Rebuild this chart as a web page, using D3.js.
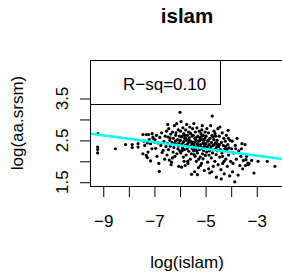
<!DOCTYPE html>
<html>
<head>
<meta charset="utf-8">
<script src="https://cdn.jsdelivr.net/npm/d3@7"></script>
<style>
  body { margin: 0; background: #fff; }
  text { font-family: "Liberation Sans", Arial, sans-serif; }
</style>
</head>
<body>
<div id="chart"></div>
<script>
var title = "islam",
    xLabel = "log(islam)",
    yLabel = "log(aa.srsm)",
    legendText = "R\u2212sq=0.10";

var xTicks = [-9, -8, -7, -6, -5, -4, -3, -2],
    xTickLabels = [-9, -7, -5, -3],
    yTicks = [1.5, 2, 2.5, 3, 3.5],
    yTickLabels = [1.5, 2.5, 3.5];

// fitted line: y = a + b * x
var fit = [1.89, -0.081];

// points, [log(islam), log(aa.srsm)]
var left = [[-9.21,2.66],[-9.22,2.34],[-9.22,2.28],[-9.22,2.2],[-8.53,2.3],[-8.13,2.4],
  [-7.87,2.4],[-7.87,2.33],[-7.64,2.42],[-7.64,2.34],[-7.45,2.64],[-7.32,2.64],[-7.23,2.64],
  [-7.09,2.66],[-7.06,2.58],[-7.41,2.48],[-7.28,2.44],[-7.15,2.42],[-6.99,2.46],[-7.45,2.18],
  [-7.32,2.14],[-7.25,2.22],[-7.28,2.09],[-7.15,2.01],[-7.38,2.38],[-7.2,2.52],[-7.1,2.3],[-7.05,2.55]];

var mid1 = [[-6.98,2.52],[-6.95,2.31],[-6.92,2.62],[-6.9,2.12],[-6.86,2.44],[-6.83,1.95],[-6.81,1.76],
  [-6.79,2.57],[-6.75,2.38],[-6.72,2.68],[-6.7,2.21],[-6.66,2.26],[-6.63,2.47],[-6.6,2.05],[-6.58,2.6],
  [-6.55,2.35],[-6.53,2.72],[-6.51,2.15],
  [-6.49,2.42],[-6.47,2.58],[-6.45,2.28],[-6.44,2.78],[-6.42,2.03],[-6.4,2.5],[-6.38,2.36],[-6.36,2.65],
  [-6.35,1.92],[-6.33,1.98],[-6.31,2.45],[-6.29,2.7],[-6.27,2.22],[-6.26,2.55],[-6.24,2.33],[-6.22,2.85],
  [-6.2,2.12],[-6.18,2.48],[-6.17,2.62],[-6.15,2.4],[-6.13,2.9],[-6.12,2.18],[-6.1,2.52],[-6.08,2.3],
  [-6.07,2.75],[-6.05,1.88],[-6.04,2.44],[-6.02,2.6],[-6.01,2.25],[-6.48,2.88],[-6.3,2.08],[-6.16,2.68],
  [-6.06,2.37],[-6.39,2.56],[-6.21,2.42]];

var mid2 = [[-5.99,2.5],[-5.98,2.72],[-5.97,2.2],[-5.96,2.95],[-5.94,1.86],[-5.93,2.4],[-5.92,2.6],
  [-5.9,2.32],[-5.89,2.8],[-5.87,2.1],[-5.86,2.47],[-5.85,2.66],[-5.83,2.28],[-5.82,2.55],[-5.8,1.9],
  [-5.79,2.38],[-5.78,2.75],[-5.76,2.15],[-5.75,2.5],[-5.74,2.88],[-5.72,2.3],[-5.71,2.62],[-5.7,2.0],
  [-5.68,2.44],[-5.67,2.7],[-5.66,2.24],[-5.64,2.56],[-5.63,2.36],[-5.62,2.82],[-5.6,2.05],[-5.59,2.48],
  [-5.58,2.66],[-5.56,2.18],[-5.55,1.69],[-5.54,2.42],[-5.53,2.6],[-5.52,2.3],[-5.51,2.78],[-6.0,3.17],
  [-5.95,2.58],[-5.88,2.45],[-5.81,2.62],[-5.73,2.4],[-5.65,2.5],[-5.57,2.35],[-5.69,1.95],[-5.84,2.0],
  [-5.77,2.55],[-5.61,2.68],[-5.91,2.26],
  [-5.49,2.46],[-5.48,2.62],[-5.47,2.25],[-5.46,2.9],[-5.45,2.38],[-5.43,1.75],[-5.42,2.55],[-5.41,2.12],
  [-5.4,2.7],[-5.38,2.33],[-5.37,2.5],[-5.36,2.0],[-5.34,2.8],[-5.33,2.42],[-5.32,2.2],[-5.3,2.6],
  [-5.29,2.35],[-5.28,1.85],[-5.26,2.48],[-5.25,2.72],[-5.24,2.28],[-5.22,2.56],[-5.21,2.1],[-5.2,2.4],
  [-5.18,2.66],[-5.17,2.3],[-5.16,1.95],[-5.14,2.52],[-5.13,2.85],[-5.12,2.18],[-5.1,2.44],[-5.09,2.62],
  [-5.08,2.26],[-5.06,2.5],[-5.05,1.78],[-5.04,2.36],[-5.02,2.7],[-5.01,2.14],[-5.44,2.45],[-5.39,2.3],
  [-5.35,2.58],[-5.31,2.4],[-5.27,2.05],[-5.23,2.5],[-5.19,2.35],[-5.15,2.6],[-5.11,2.32],[-5.07,2.42],
  [-5.03,2.55],[-5.45,2.16],[-5.32,1.68],[-5.2,1.9],[-5.1,2.06],[-5.35,2.25],[-5.15,2.75]];

var mid3 = [[-4.99,2.42],[-4.98,2.6],[-4.96,2.22],[-4.95,2.78],[-4.93,2.35],[-4.92,1.98],[-4.9,2.5],
  [-4.89,2.68],[-4.87,2.15],[-4.86,2.4],[-4.84,1.72],[-4.83,2.55],[-4.81,2.3],[-4.8,2.85],[-4.78,2.08],
  [-4.77,2.45],[-4.75,2.62],[-4.74,3.08],[-4.73,2.2],[-4.71,2.38],[-4.7,1.88],[-4.68,2.52],[-4.67,2.72],
  [-4.65,2.28],[-4.64,2.0],[-4.62,2.44],[-4.61,2.6],[-4.59,2.16],[-4.58,1.62],[-4.56,2.35],[-4.55,2.5],
  [-4.53,2.25],[-4.52,2.78],[-4.51,1.92],[-4.97,2.32],[-4.91,2.48],[-4.85,2.25],[-4.79,2.35],[-4.72,2.58],
  [-4.66,2.4],[-4.6,2.3],[-4.54,2.42],[-4.88,1.82],[-4.76,1.75],[-4.63,2.66],
  [-4.49,2.35],[-4.47,2.6],[-4.45,2.1],[-4.44,2.82],[-4.42,2.28],[-4.4,1.8],[-4.38,2.45],[-4.36,2.2],
  [-4.35,2.68],[-4.33,1.95],[-4.31,2.38],[-4.29,2.55],[-4.27,1.7],[-4.25,2.3],[-4.23,2.48],[-4.21,2.05],
  [-4.19,2.62],[-4.17,2.25],[-4.15,1.88],[-4.13,2.4],[-4.12,2.74],[-4.1,2.15],[-4.08,2.32],[-4.06,1.65],
  [-4.04,2.5],[-4.02,2.0],[-4.46,2.4],[-4.34,2.12],[-4.22,2.36],[-4.11,2.55],[-4.39,1.58],[-4.28,2.0],
  [-4.16,2.3]];

var right = [[-3.98,2.3],[-3.96,2.48],[-3.93,1.95],[-3.9,2.2],[-3.86,1.51],[-3.84,2.38],[-3.8,2.05],
  [-3.77,2.55],[-3.73,1.67],[-3.7,2.25],[-3.66,1.9],[-3.62,2.12],[-3.58,2.42],[-3.55,1.82],[-3.52,2.02],
  [-3.95,1.75],[-3.82,2.3],[-3.6,2.3],[-3.46,2.4],[-3.42,2.04],[-3.4,2.12],[-3.35,1.96],[-3.33,1.92],
  [-3.3,1.95],[-3.44,1.9],[-3.11,1.72],[-3.2,2.02],[-2.95,2.0],[-2.59,2.0],[-2.29,1.88]];

var points = left.concat(mid1, mid2, mid3, right);

var width = 282, height = 274;
var plot = {left: 91, top: 60, right: 300, bottom: 186};

var svg = d3.select("#chart").append("svg")
    .attr("width", width)
    .attr("height", height);

var x = d3.scaleLinear().domain([-9.48, -1.31]).range([plot.left, plot.right]);
var y = d3.scaleLinear().domain([1.41, 4.42]).range([plot.bottom, plot.top]);

svg.append("clipPath").attr("id", "clip")
  .append("rect")
    .attr("x", plot.left).attr("y", plot.top)
    .attr("width", plot.right - plot.left).attr("height", plot.bottom - plot.top);

var inner = svg.append("g").attr("clip-path", "url(#clip)");

inner.selectAll("circle")
    .data(points)
  .enter().append("circle")
    .attr("cx", function(d) { return x(d[0]); })
    .attr("cy", function(d) { return y(d[1]); })
    .attr("r", 1.6)
    .attr("fill", "#000");

var xs = x.domain();
inner.append("line")
    .attr("x1", x(xs[0])).attr("y1", y(fit[0] + fit[1] * xs[0]))
    .attr("x2", x(xs[1])).attr("y2", y(fit[0] + fit[1] * xs[1]))
    .attr("stroke", "#00ffff")
    .attr("stroke-width", 2.5);

// axes
var xAxis = svg.append("g")
    .attr("transform", "translate(0," + plot.bottom + ")")
    .call(d3.axisBottom(x).tickValues(xTicks).tickSize(11).tickSizeOuter(0).tickPadding(18)
      .tickFormat(function(d) { return xTickLabels.indexOf(d) >= 0 ? d3.format("d")(d) : ""; }));
xAxis.select(".domain").remove();
xAxis.selectAll("text").attr("font-size", 17).attr("fill", "#000")
    .attr("font-family", "Liberation Sans, Arial, sans-serif");
xAxis.selectAll("line").attr("stroke", "#000");

var yAxis = svg.append("g")
    .attr("transform", "translate(" + plot.left + ",0)")
    .call(d3.axisLeft(y).tickValues(yTicks).tickSize(11).tickSizeOuter(0).tickFormat(""));
yAxis.select(".domain").remove();
yAxis.selectAll("line").attr("stroke", "#000");

svg.selectAll(".ylab")
    .data(yTickLabels)
  .enter().append("text")
    .attr("class", "ylab")
    .attr("transform", function(d) { return "translate(68," + y(d) + ") rotate(-90)"; })
    .attr("text-anchor", "middle")
    .attr("font-size", 17)
    .text(function(d) { return d3.format(".1f")(d); });

// box
svg.append("rect")
    .attr("x", plot.left - 0.5).attr("y", plot.top + 0.5)
    .attr("width", plot.right - plot.left).attr("height", plot.bottom - plot.top)
    .attr("fill", "none").attr("stroke", "#000");

// legend
svg.append("rect")
    .attr("x", plot.left - 0.5).attr("y", plot.top + 0.5)
    .attr("width", 130).attr("height", 44)
    .attr("fill", "#fff").attr("stroke", "#000");
svg.append("text")
    .attr("x", 123).attr("y", 90)
    .attr("font-size", 17)
    .text(legendText);

// titles
svg.append("text")
    .attr("x", 187).attr("y", 23)
    .attr("text-anchor", "middle")
    .attr("font-size", 20.5)
    .attr("font-weight", "bold")
    .text(title);

svg.append("text")
    .attr("x", 187).attr("y", 268)
    .attr("text-anchor", "middle")
    .attr("font-size", 17)
    .text(xLabel);

svg.append("text")
    .attr("transform", "translate(23," + (plot.top + plot.bottom) / 2 + ") rotate(-90)")
    .attr("text-anchor", "middle")
    .attr("font-size", 17)
    .text(yLabel);
</script>
</body>
</html>
